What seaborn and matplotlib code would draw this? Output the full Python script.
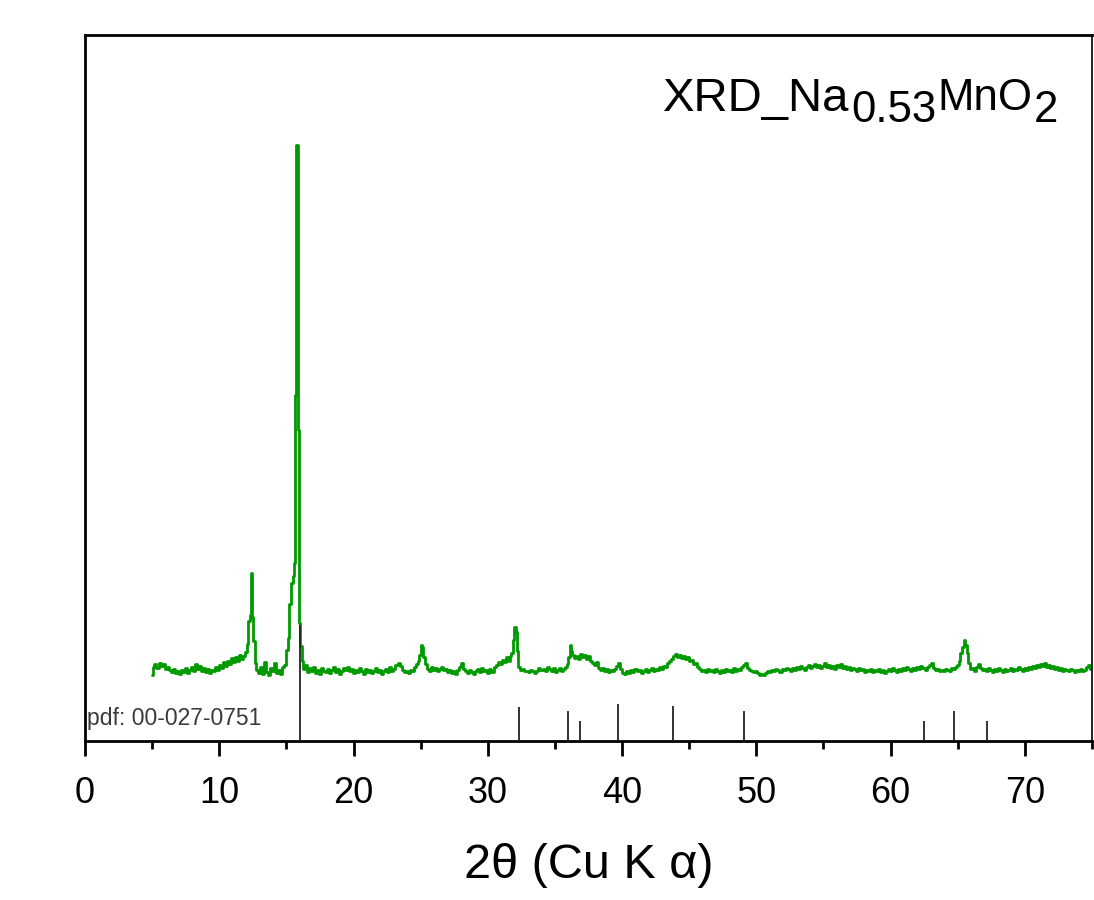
import matplotlib
matplotlib.use("Agg")
import matplotlib.pyplot as plt
from matplotlib.ticker import MultipleLocator
import seaborn as sns

# XRD trace: (2theta, intensity)
trace = [
    (5.0, 66), (5.1, 74), (5.25, 77), (5.4, 73), (5.55, 78), (5.7, 75), (5.85, 77), (6.0, 72),
    (6.15, 74), (6.3, 71), (6.45, 69), (6.6, 72), (6.75, 68), (6.9, 70), (7.05, 67), (7.2, 71),
    (7.35, 69), (7.5, 73), (7.65, 68), (7.8, 71), (7.95, 74), (8.1, 70), (8.25, 77), (8.4, 72),
    (8.55, 75), (8.7, 70), (8.85, 73), (9.0, 69), (9.15, 72), (9.3, 68), (9.45, 71), (9.6, 70),
    (9.75, 74), (9.9, 71), (10.05, 76), (10.2, 73), (10.35, 79), (10.5, 75), (10.65, 80), (10.8, 77),
    (10.95, 83), (11.1, 79), (11.25, 84), (11.4, 80), (11.55, 86), (11.7, 82), (11.85, 85), (12.0, 89),
    (12.12, 97), (12.22, 120), (12.32, 126), (12.4, 168), (12.48, 124), (12.58, 100), (12.68, 78),
    (12.8, 71), (12.95, 68), (13.1, 74), (13.25, 67), (13.4, 79), (13.55, 69), (13.7, 66), (13.85, 73),
    (14.0, 70), (14.15, 78), (14.3, 68), (14.45, 71), (14.6, 67), (14.75, 74), (14.9, 76), (15.02, 91),
    (15.15, 103), (15.3, 137), (15.42, 158), (15.52, 165), (15.6, 178), (15.68, 346), (15.78, 596),
    (15.88, 311), (15.98, 118), (16.08, 95), (16.2, 80), (16.32, 72), (16.45, 76), (16.6, 69),
    (16.75, 73), (16.9, 70), (17.05, 74), (17.2, 68), (17.35, 71), (17.5, 67), (17.65, 73), (17.8, 70),
    (17.95, 69), (18.1, 72), (18.25, 68), (18.4, 71), (18.55, 74), (18.7, 69), (18.85, 72), (19.0, 67),
    (19.15, 70), (19.3, 73), (19.45, 71), (19.6, 74), (19.75, 70), (19.9, 72), (20.05, 68), (20.2, 71),
    (20.35, 69), (20.5, 73), (20.65, 70), (20.8, 67), (20.95, 72), (21.1, 69), (21.25, 71), (21.4, 68),
    (21.55, 70), (21.7, 73), (21.85, 69), (22.0, 71), (22.15, 67), (22.3, 70), (22.45, 72), (22.6, 69),
    (22.75, 74), (22.9, 70), (23.05, 72), (23.2, 76), (23.35, 78), (23.5, 75), (23.65, 71), (23.8, 69),
    (23.95, 70), (24.1, 68), (24.25, 71), (24.4, 70), (24.55, 74), (24.7, 77), (24.85, 80), (24.95, 86),
    (25.05, 96), (25.15, 94), (25.25, 84), (25.4, 77), (25.55, 72), (25.7, 70), (25.85, 74), (26.0, 71),
    (26.15, 73), (26.3, 70), (26.45, 72), (26.6, 74), (26.75, 71), (26.9, 72), (27.05, 69), (27.2, 71),
    (27.35, 68), (27.5, 70), (27.65, 67), (27.8, 71), (27.95, 74), (28.1, 78), (28.25, 72), (28.4, 70),
    (28.55, 68), (28.7, 71), (28.85, 69), (29.0, 67), (29.15, 70), (29.3, 72), (29.45, 69), (29.6, 73),
    (29.75, 70), (29.9, 71), (30.05, 68), (30.2, 72), (30.35, 69), (30.5, 74), (30.65, 76), (30.8, 79),
    (30.95, 77), (31.1, 81), (31.25, 79), (31.4, 84), (31.55, 80), (31.7, 85), (31.82, 88), (31.92, 101),
    (32.02, 114), (32.12, 109), (32.22, 90), (32.34, 74), (32.5, 71), (32.65, 72), (32.8, 70), (32.95, 70),
    (33.1, 69), (33.25, 71), (33.4, 70), (33.55, 68), (33.7, 70), (33.85, 73), (34.0, 71), (34.15, 72),
    (34.3, 70), (34.45, 74), (34.6, 72), (34.75, 70), (34.9, 73), (35.05, 69), (35.2, 71), (35.35, 73),
    (35.5, 70), (35.65, 72), (35.8, 74), (35.95, 77), (36.05, 84), (36.15, 96), (36.25, 90), (36.35, 86),
    (36.5, 83), (36.65, 85), (36.8, 82), (36.95, 87), (37.1, 84), (37.25, 86), (37.4, 82), (37.55, 85),
    (37.7, 80), (37.85, 78), (38.0, 76), (38.15, 79), (38.3, 73), (38.45, 71), (38.6, 73), (38.75, 70),
    (38.9, 72), (39.05, 69), (39.2, 71), (39.35, 70), (39.5, 72), (39.65, 75), (39.8, 78), (39.95, 72),
    (40.1, 68), (40.25, 67), (40.4, 70), (40.55, 68), (40.7, 71), (40.85, 69), (41.0, 72), (41.15, 70),
    (41.3, 71), (41.45, 68), (41.6, 70), (41.75, 72), (41.9, 69), (42.05, 71), (42.2, 73), (42.35, 70),
    (42.5, 72), (42.65, 71), (42.8, 74), (42.95, 72), (43.1, 75), (43.25, 74), (43.4, 78), (43.55, 80),
    (43.7, 82), (43.85, 85), (44.0, 87), (44.15, 84), (44.3, 86), (44.45, 83), (44.6, 85), (44.75, 82),
    (44.9, 84), (45.05, 80), (45.2, 81), (45.35, 77), (45.5, 78), (45.65, 74), (45.8, 72), (45.95, 70),
    (46.1, 71), (46.25, 69), (46.4, 72), (46.55, 70), (46.7, 71), (46.85, 69), (47.0, 72), (47.15, 70),
    (47.3, 68), (47.45, 71), (47.6, 69), (47.75, 72), (47.9, 70), (48.05, 71), (48.2, 69), (48.35, 73),
    (48.5, 70), (48.65, 72), (48.8, 71), (48.95, 74), (49.1, 76), (49.25, 78), (49.4, 73), (49.55, 71),
    (49.7, 70), (49.85, 69), (50.0, 70), (50.15, 68), (50.3, 66), (50.45, 67), (50.6, 66), (50.75, 68),
    (50.9, 70), (51.05, 69), (51.2, 71), (51.35, 70), (51.5, 72), (51.65, 71), (51.8, 69), (51.95, 72),
    (52.1, 71), (52.25, 73), (52.4, 72), (52.55, 70), (52.7, 73), (52.85, 71), (53.0, 74), (53.15, 72),
    (53.3, 75), (53.45, 73), (53.6, 71), (53.75, 74), (53.9, 76), (54.05, 73), (54.2, 75), (54.35, 77),
    (54.5, 74), (54.65, 76), (54.8, 73), (54.95, 75), (55.1, 78), (55.25, 74), (55.4, 76), (55.55, 73),
    (55.7, 75), (55.85, 72), (56.0, 76), (56.15, 74), (56.3, 77), (56.45, 73), (56.6, 75), (56.75, 72),
    (56.9, 74), (57.05, 71), (57.2, 73), (57.35, 72), (57.5, 70), (57.65, 73), (57.8, 71), (57.95, 72),
    (58.1, 69), (58.25, 71), (58.4, 70), (58.55, 72), (58.7, 69), (58.85, 71), (59.0, 70), (59.15, 72),
    (59.3, 69), (59.45, 71), (59.6, 68), (59.75, 70), (59.9, 72), (60.05, 70), (60.2, 73), (60.35, 71),
    (60.5, 69), (60.65, 72), (60.8, 70), (60.95, 73), (61.1, 71), (61.25, 74), (61.4, 72), (61.55, 70),
    (61.7, 73), (61.85, 71), (62.0, 74), (62.15, 72), (62.3, 75), (62.45, 73), (62.6, 71), (62.75, 74),
    (62.9, 76), (63.05, 78), (63.2, 73), (63.35, 71), (63.5, 72), (63.65, 70), (63.8, 71), (63.95, 70),
    (64.1, 72), (64.25, 71), (64.4, 70), (64.55, 73), (64.7, 72), (64.85, 74), (65.0, 76), (65.12, 80),
    (65.25, 88), (65.38, 94), (65.5, 101), (65.62, 96), (65.74, 88), (65.86, 78), (65.98, 72), (66.1, 73),
    (66.25, 70), (66.4, 74), (66.55, 77), (66.7, 73), (66.85, 71), (67.0, 72), (67.15, 70), (67.3, 73),
    (67.45, 71), (67.6, 69), (67.75, 72), (67.9, 70), (68.05, 73), (68.2, 71), (68.35, 69), (68.5, 72),
    (68.65, 70), (68.8, 71), (68.95, 73), (69.1, 70), (69.25, 72), (69.4, 71), (69.55, 74), (69.7, 72),
    (69.85, 70), (70.0, 73), (70.15, 71), (70.3, 74), (70.45, 72), (70.6, 75), (70.75, 73), (70.9, 76),
    (71.05, 74), (71.2, 77), (71.35, 75), (71.5, 78), (71.65, 74), (71.8, 76), (71.95, 73), (72.1, 75),
    (72.25, 72), (72.4, 74), (72.55, 71), (72.7, 73), (72.85, 70), (73.0, 72), (73.15, 71), (73.3, 70),
    (73.45, 72), (73.6, 71), (73.75, 69), (73.9, 71), (74.05, 70), (74.2, 72), (74.35, 70), (74.5, 71),
    (74.65, 74), (74.8, 76), (74.95, 72),
]
two_theta = [t for t, _ in trace]
counts = [c for _, c in trace]

# reference pattern pdf 00-027-0751
ref_pos = [16.0, 32.3, 36.0, 36.9, 39.7, 43.8, 49.1, 62.5, 64.75, 67.2]
ref_int = [116, 34, 30, 20, 37, 35, 30, 20, 30, 20]

xticks = [0, 10, 20, 30, 40, 50, 60, 70]

sns.set_style("ticks")
plt.rcParams['font.family'] = ['Liberation Sans', 'DejaVu Sans']
plt.rcParams['text.color'] = 'black'
plt.rcParams['axes.labelcolor'] = 'black'
plt.rcParams['xtick.color'] = 'black'

fig = plt.figure(figsize=(10.94, 9.0), dpi=100)
ax = fig.add_axes([85 / 1094, 1 - 741 / 900, 1007 / 1094, 706 / 900])

ax.vlines(ref_pos, 0, ref_int, color='#222222', lw=1.3, zorder=3)
sns.lineplot(x=two_theta, y=counts, ax=ax, color='#009a00', lw=2.0,
             drawstyle='steps-mid', zorder=2)

ax.set_xlim(0, 75)
ax.set_ylim(0, 706)
ax.set_yticks([])
ax.set_xticks(xticks)
ax.xaxis.set_minor_locator(MultipleLocator(5))
ax.tick_params(axis='x', which='major', length=11, width=2, direction='out',
               labelsize=26, pad=14, colors='black')
ax.tick_params(axis='x', which='minor', length=6, width=2, direction='out',
               colors='black')
for s in ax.spines.values():
    s.set_visible(True)
    s.set_linewidth(2)
    s.set_color('black')
ax.spines['right'].set_linewidth(1.2)

ax.set_xlabel('2θ (Cu K α)', fontsize=35, labelpad=23, color='black')

ax.text(0.002, 0.022, 'pdf: 00-027-0751', transform=ax.transAxes,
        fontsize=16.5, color='#3a3a3a', ha='left', va='baseline')

# title text built from pieces so sub-scripts keep their own size
t1 = ax.text(0.574, 0.892, 'XRD_Na', transform=ax.transAxes, fontsize=34,
             ha='left', va='baseline', color='black')
t2 = ax.annotate('0.53', xy=(1, 0), xycoords=t1, xytext=(1, -7),
                 textcoords='offset points', fontsize=31.5, va='bottom', color='black')
t3 = ax.annotate('MnO', xy=(1, 0), xycoords=t2, xytext=(1, 8.6),
                 textcoords='offset points', fontsize=31.5, va='bottom', color='black')
ax.annotate('2', xy=(1, 0), xycoords=t3, xytext=(1, -8.6),
            textcoords='offset points', fontsize=31.5, va='bottom', color='black')

plt.savefig('out.png', dpi=100)
